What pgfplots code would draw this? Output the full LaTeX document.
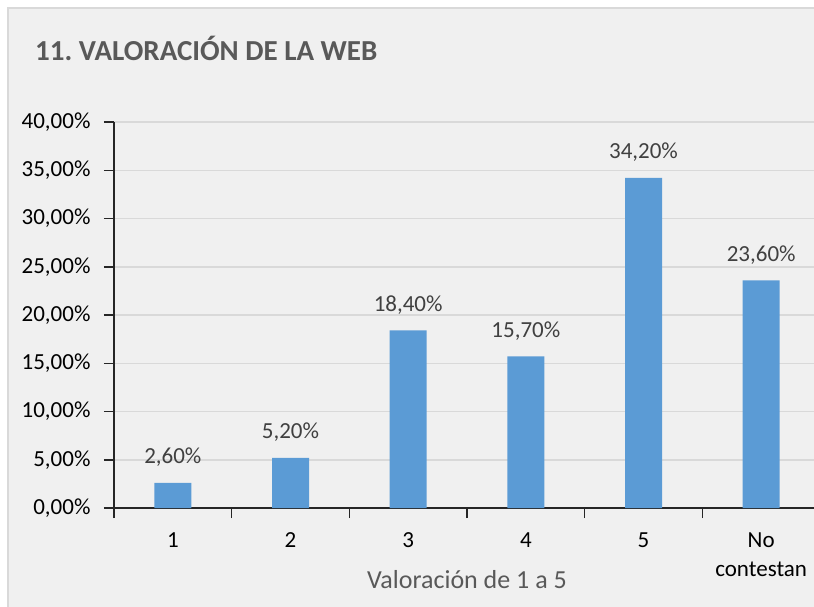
\documentclass[border=0pt]{standalone}
\usepackage{fontspec}
\setmainfont{Carlito}
\usepackage{pgfplots}
\pgfplotsset{compat=1.18}
\definecolor{barblue}{HTML}{5B9BD5}
\definecolor{bggray}{HTML}{F0F0F0}
\definecolor{bordergray}{HTML}{D9D9D9}
\definecolor{titlegray}{HTML}{595959}
\definecolor{labelgray}{HTML}{404040}

\begin{document}
\frenchspacing
\begin{tikzpicture}[x=1pt,y=1pt]
\path[use as bounding box] (0,0) rectangle (814,606);
\clip (0,0) rectangle (814,606);
\fill[white] (0,0) rectangle (814,606);
\fill[bggray] (7.5,-20) rectangle (840,597.5);
\draw[bordergray, line width=2pt] (7.5,-20) -- (7.5,597.5) -- (840,597.5);
\node[anchor=base west, inner sep=0pt, text=titlegray,
      font=\fontsize{29}{34}\selectfont\bfseries] at (35,545) {11. VALORACIÓN DE LA WEB};
\begin{axis}[
  at={(114pt,98pt)}, anchor=south west,
  scale only axis, width=706pt, height=386pt,
  xmin=-0.5, xmax=5.5, ymin=0, ymax=40,
  axis x line*=bottom, axis y line*=left,
  axis line style={black!85, line width=1.5pt, -},
  tick align=outside, major tick length=10pt,
  tick style={black!85, line width=1.5pt},
  xtick={-0.5,0.5,1.5,2.5,3.5,4.5}, xticklabels={},
  extra x ticks={0,1,2,3,4,5},
  extra x tick labels={1,2,3,4,5,{No\\contestan}},
  extra x tick style={major tick length=0pt, grid=none},
  xticklabel style={font=\fontsize{23}{29}\selectfont, align=center, anchor=north, yshift=-21pt},
  ytick={0,5,...,40},
  yticklabel={\pgfmathprintnumber[fixed,fixed zerofill,precision=2,use comma,assume math mode=true]{\tick}\%},
  yticklabel style={font=\fontsize{23}{28}\selectfont, anchor=east, xshift=-10pt},
  ymajorgrids, grid style={bordergray, line width=1.5pt},
  xlabel={Valoración de 1 a 5},
  xlabel style={font=\fontsize{26}{30}\selectfont, text=titlegray, anchor=base,
                at={(axis description cs:0.5,0)}, yshift=-80pt},
]
\addplot[ybar, bar width=37pt, fill=barblue, draw=none,
  nodes near coords={\pgfmathprintnumber[fixed,fixed zerofill,precision=2,use comma,assume math mode=true]{\pgfplotspointmeta}\%},
  every node near coord/.append style={anchor=base, yshift=19pt, text=labelgray,
                                        font=\fontsize{23}{28}\selectfont}]
  coordinates {(0,2.6) (1,5.2) (2,18.4) (3,15.7) (4,34.2) (5,23.6)};
\end{axis}
\end{tikzpicture}
\end{document}
